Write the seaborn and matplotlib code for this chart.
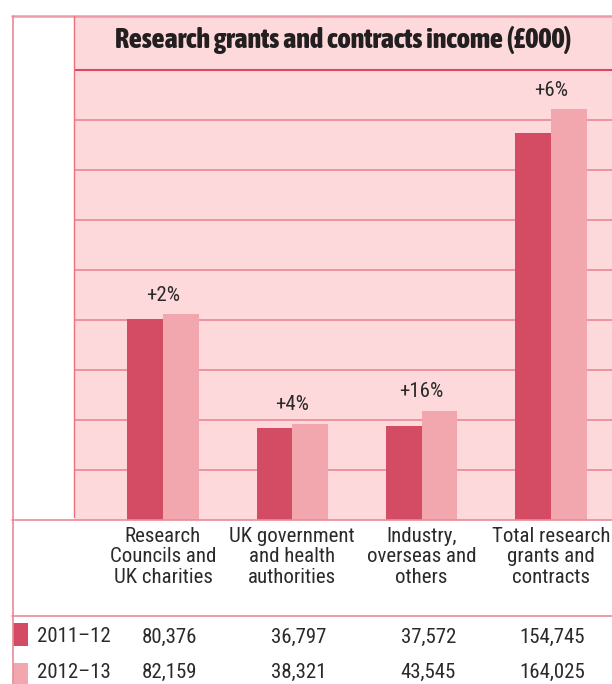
import matplotlib
matplotlib.use("Agg")
import matplotlib.pyplot as plt
import matplotlib.transforms as mtransforms
from matplotlib.lines import Line2D
from matplotlib.patches import Rectangle
from matplotlib import font_manager
from matplotlib.font_manager import FontProperties
import seaborn as sns
import pandas as pd

# ---- data ----
categories = ["Research\nCouncils and\nUK charities",
              "UK government\nand health\nauthorities",
              "Industry,\noverseas and\nothers",
              "Total research\ngrants and\ncontracts"]
years = ["2011–12", "2012–13"]
values_2011 = [80376, 36797, 37572, 154745]
values_2012 = [82159, 38321, 43545, 164025]
value_labels_2011 = ["80,376", "36,797", "37,572", "154,745"]
value_labels_2012 = ["82,159", "38,321", "43,545", "164,025"]
title = "Research grants and contracts income (£000)"
grid_values = [20000, 40000, 60000, 80000, 100000, 120000, 140000, 160000]
title_line_value = 180000

# ---- styles ----
DARK = "#d44b64"
LIGHT = "#f2a7ae"
BG = "#fdd9dc"
GRID = "#eb8d9a"
TITLE_LINE = "#e0475e"
BORDER = "#ea8a99"
TEXT = "#2a2a2a"

sns.set_theme(style="white")
plt.rcParams["font.family"] = ["Liberation Sans", "DejaVu Sans"]

# ---- pick a condensed font if one is installed ----
fonts = font_manager.fontManager.ttflist

def is_condensed(f):
    n = (f.name + " " + f.fname).lower()
    return ("condensed" in n or "narrow" in n or
            str(f.stretch) in ("condensed", "semi-condensed", "extra-condensed",
                               "ultra-condensed") or
            (isinstance(f.stretch, int) and f.stretch < 500))

def weight_num(w):
    table = {"ultralight": 100, "light": 300, "normal": 400, "regular": 400,
             "book": 400, "medium": 500, "roman": 400, "semibold": 600,
             "demibold": 600, "demi": 600, "bold": 700, "heavy": 800,
             "extra bold": 800, "black": 900}
    if isinstance(w, int):
        return w
    return table.get(str(w).lower(), 400)

def pick(want_bold):
    pref_families = ["Roboto Condensed", "Liberation Sans Narrow",
                     "DejaVu Sans", "Open Sans", "Noto Sans", "Inter",
                     "Roboto"]
    cands = [f for f in fonts if is_condensed(f) and f.style == "normal"]
    best = None
    best_score = None
    for f in cands:
        w = weight_num(f.weight)
        target = 800 if want_bold else 400
        fam_rank = next((i for i, p in enumerate(pref_families)
                         if f.name.startswith(p)), len(pref_families))
        score = (abs(w - target), fam_rank)
        if best_score is None or score < best_score:
            best, best_score = f, score
    if best is not None:
        return FontProperties(fname=best.fname)
    return FontProperties(family=["Roboto", "Liberation Sans", "DejaVu Sans"],
                          weight="bold" if want_bold else "normal")

FP_REG = pick(False)
FP_BOLD = pick(True)

W, H = 612, 684
fig = plt.figure(figsize=(W / 100, H / 100), dpi=100)
fig.patch.set_facecolor("white")
renderer = fig.canvas.get_renderer()

def fx(px):
    return px / W

def fy(py):
    return 1 - py / H

def fit_size(text, fp, target_px, start=12.0, max_size=None):
    t = fig.text(0, 0, text, fontproperties=fp, fontsize=start)
    w = t.get_window_extent(renderer=renderer).width
    t.remove()
    s = start * target_px / w
    if max_size is not None:
        s = min(s, max_size)
    return s

TITLE_SIZE = fit_size(title, FP_BOLD, 458, max_size=22)
BODY_SIZE = fit_size("Total research", FP_REG, 118, max_size=16)

ax_left, ax_right, ax_top, ax_bottom = 74, 612, 16, 519.5
ax = fig.add_axes([fx(ax_left), fy(ax_bottom), (ax_right - ax_left) / W,
                   (ax_bottom - ax_top) / H])
ax.set_facecolor(BG)

df = pd.DataFrame({
    "cat": categories * 2,
    "year": [years[0]] * 4 + [years[1]] * 4,
    "val": values_2011 + values_2012,
})

sns.barplot(data=df, x="cat", y="val", hue="year", order=categories,
            hue_order=years, palette=[DARK, LIGHT], width=0.55,
            saturation=1, linewidth=0, legend=False, ax=ax, zorder=3)

YMAX = 201400
ax.set_xlim(-0.688, 3.472)
ax.set_ylim(0, YMAX)
for g in grid_values:
    ax.axhline(g, color=GRID, lw=1.3, zorder=1)
ax.axhline(title_line_value, color=TITLE_LINE, lw=1.5, zorder=1)
ax.set_xticks([])
ax.set_yticks([])
ax.set_xlabel("")
ax.set_ylabel("")
for s in ax.spines.values():
    s.set_visible(False)

# title
tblend = mtransforms.blended_transform_factory(ax.transAxes, fig.transFigure)
ax.text(0.5, fy(40), title, transform=tblend, ha="center", va="center",
        fontproperties=FP_BOLD, fontsize=TITLE_SIZE, color="#231f20")

# percentage change labels
for i, (a, b) in enumerate(zip(values_2011, values_2012)):
    pct = round((b - a) / a * 100)
    ax.text(i, b + 7600, f"+{pct}%", ha="center", va="center",
            fontproperties=FP_REG, fontsize=BODY_SIZE, color=TEXT, zorder=4)

# category labels below
blend = mtransforms.blended_transform_factory(ax.transData, fig.transFigure)
for i, c in enumerate(categories):
    ax.text(i, fy(557), c, transform=blend, ha="center", va="center",
            fontproperties=FP_REG, fontsize=BODY_SIZE, color=TEXT,
            linespacing=1.08, clip_on=False)

# table values (right aligned to right edge of the second bar)
for i in range(len(categories)):
    ax.text(i + 0.265, fy(637), value_labels_2011[i], transform=blend,
            ha="right", va="center", fontproperties=FP_REG,
            fontsize=BODY_SIZE, color=TEXT, clip_on=False)
    ax.text(i + 0.265, fy(672), value_labels_2012[i], transform=blend,
            ha="right", va="center", fontproperties=FP_REG,
            fontsize=BODY_SIZE, color=TEXT, clip_on=False)

# legend swatches and year labels
fig.add_artist(Rectangle((fx(12.5), fy(646)), 15 / W, 23 / H,
                         transform=fig.transFigure, color=DARK, lw=0))
fig.add_artist(Rectangle((fx(12.5), fy(684)), 15 / W, 21 / H,
                         transform=fig.transFigure, color=LIGHT, lw=0))
fig.text(fx(37), fy(637), years[0], ha="left", va="center",
         fontproperties=FP_REG, fontsize=BODY_SIZE, color=TEXT)
fig.text(fx(37), fy(672), years[1], ha="left", va="center",
         fontproperties=FP_REG, fontsize=BODY_SIZE, color=TEXT)

# frame lines
def hline(y, x0, x1, color=BORDER, lw=1.2):
    fig.add_artist(Line2D([fx(x0), fx(x1)], [fy(y), fy(y)],
                          transform=fig.transFigure, color=color, lw=lw))

def vline(x, y0, y1, color=BORDER, lw=1.2):
    fig.add_artist(Line2D([fx(x), fx(x)], [fy(y0), fy(y1)],
                          transform=fig.transFigure, color=color, lw=lw))

hline(16, 12, 612, color="#ee9aa6", lw=1.8)
vline(12.5, 16, 684)
vline(74, 16, 517, color="#e8707f", lw=1.0)
hline(520, 12, 612)
hline(616, 12, 612)

fig.savefig("out.png", dpi=100, facecolor="white")
